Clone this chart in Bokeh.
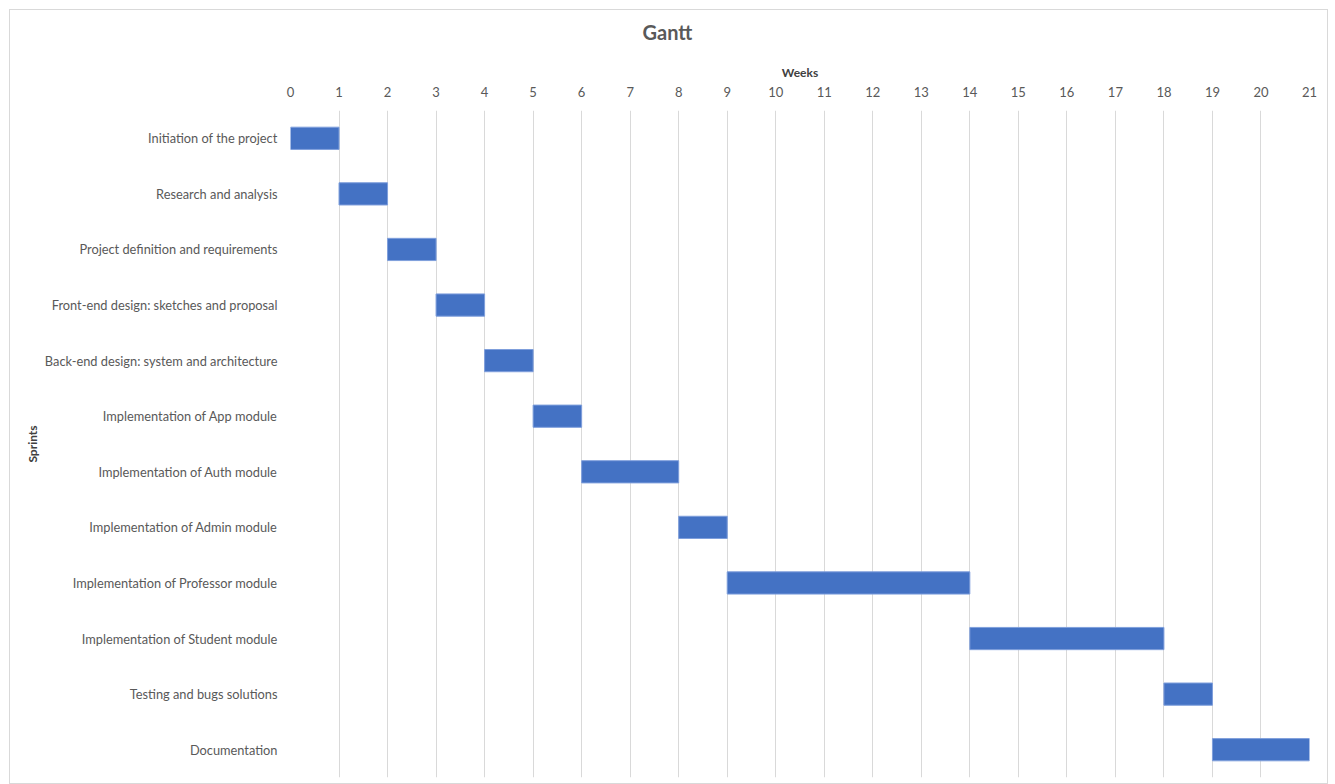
from bokeh.plotting import figure
from bokeh.models import Range1d, FactorRange, FixedTicker, Title
from bokeh.embed import file_html
from bokeh.resources import INLINE

tasks = [
    "Initiation of the project",
    "Research and analysis",
    "Project definition and requirements",
    "Front-end design: sketches and proposal",
    "Back-end design: system and architecture",
    "Implementation of App module",
    "Implementation of Auth module",
    "Implementation of Admin module",
    "Implementation of Professor module",
    "Implementation of Student module",
    "Testing and bugs solutions",
    "Documentation",
]
starts = [0, 1, 2, 3, 4, 5, 6, 8, 9, 14, 18, 19]
ends = [1, 2, 3, 4, 5, 6, 8, 9, 14, 18, 19, 21]
week_ticks = list(range(0, 22))

FONT = "Lato"
GRAY = "#595959"

p = figure(
    width=1319, height=775,
    y_range=FactorRange(factors=tasks[::-1]),
    x_range=Range1d(0, 21),
    x_axis_location="above",
    output_backend="svg",
    toolbar_location=None,
    min_border_left=280, min_border_right=20,
    min_border_top=99, min_border_bottom=8,
    title=None,
)
p.margin = (9, 0, 0, 9)
p.styles = {"border": "1px solid #d9d9d9", "box-sizing": "border-box"}
p.outline_line_color = None

p.hbar(y=tasks, left=starts, right=ends, height=0.4,
       fill_color="#4472C4", line_color="#7f9fdc", line_width=1)

spacer = Title(text=" ", text_font_size="8px", standoff=0, text_color="white")
p.add_layout(spacer, "above")

t = Title(text="Gantt", align="left", offset=352, text_font=FONT,
          text_font_size="20px", text_font_style="bold", text_color=GRAY,
          standoff=14)
p.add_layout(t, "above")

xa = p.xaxis[0]
xa.ticker = FixedTicker(ticks=week_ticks)
xa.axis_label = "Weeks"
xa.axis_label_text_font = FONT
xa.axis_label_text_font_size = "12px"
xa.axis_label_text_font_style = "bold"
xa.axis_label_text_color = "#404040"
xa.axis_label_standoff = 4
xa.major_label_text_font = FONT
xa.major_label_text_font_size = "13px"
xa.major_label_text_color = GRAY
xa.major_label_standoff = 8
xa.axis_line_color = None
xa.major_tick_line_color = None
xa.minor_tick_line_color = None

ya = p.yaxis[0]
ya.axis_label = "Sprints"
ya.axis_label_text_font = FONT
ya.axis_label_text_font_size = "12px"
ya.axis_label_text_font_style = "bold"
ya.axis_label_text_color = "#404040"
ya.axis_label_standoff = 2
ya.major_label_text_font = FONT
ya.major_label_text_font_size = "12.8px"
ya.major_label_text_color = GRAY
ya.major_label_standoff = 7
ya.axis_line_color = None
ya.major_tick_line_color = None
ya.minor_tick_line_color = None

p.xgrid.grid_line_color = "#d9d9d9"
p.xgrid.ticker = FixedTicker(ticks=week_ticks)
p.ygrid.grid_line_color = None

open("out.html", "w").write(file_html(p, INLINE))
